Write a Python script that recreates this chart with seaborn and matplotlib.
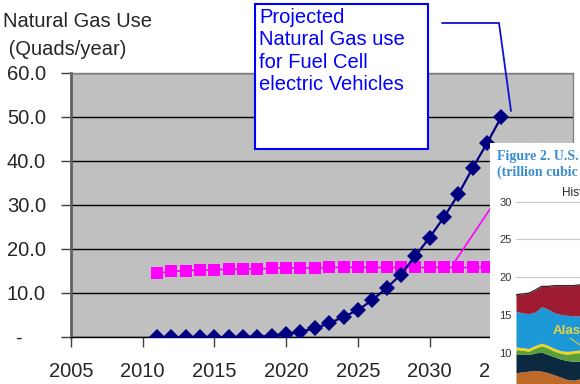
import matplotlib
matplotlib.use("Agg")
import matplotlib.pyplot as plt
from matplotlib.patches import Rectangle
from matplotlib.lines import Line2D
import seaborn as sns

# ---- main chart data ----
fcev_years = list(range(2011, 2036))
fcev_use = [0.0, 0.0, 0.0, 0.0, 0.0, 0.0, 0.05, 0.1, 0.3, 0.7, 1.2, 2.0, 3.1, 4.6,
            6.1, 8.4, 11.1, 14.2, 18.4, 22.6, 27.2, 32.4, 38.4, 44.0, 50.0]
ng_years = list(range(2011, 2036))
ng_use = [14.5, 14.9, 15.1, 15.2, 15.3, 15.4, 15.4, 15.5, 15.6, 15.7, 15.7, 15.7, 15.8,
          15.8, 15.8, 15.8, 15.8, 15.8, 15.8, 15.8, 15.8, 15.8, 15.8, 15.8, 15.8]
x_ticks = [2005, 2010, 2015, 2020, 2025, 2030, 2035, 2040]
y_ticks = [0, 10, 20, 30, 40, 50, 60]
y_labels = ["", "10.0", "20.0", "30.0", "40.0", "50.0", "60.0"]
title_lines = ["Natural Gas Use", " (Quads/year)"]
note_text = "Projected\nNatural Gas use\nfor Fuel Cell\nelectric Vehicles"

# ---- overlaid figure data (partial, EIA chart) ----
inset_years = list(range(1990, 2002))
top_total = [17.7, 17.8, 17.9, 18.3, 18.8, 18.8, 18.9, 18.9, 18.9, 18.9, 19.0, 19.0]
top_blue = [15.5, 15.3, 15.2, 15.4, 16.1, 15.8, 15.3, 15.1, 15.0, 14.9, 14.9, 14.9]
top_yellow = [10.8, 10.7, 10.6, 11.0, 11.3, 11.0, 10.6, 10.3, 10.2, 10.3, 10.4, 10.5]
top_green = [10.45, 10.35, 10.25, 10.65, 10.95, 10.65, 10.25, 9.95, 9.85, 9.95, 10.05, 10.15]
top_navy = [9.9, 9.8, 9.8, 10.0, 10.1, 9.8, 9.5, 9.2, 9.0, 8.9, 8.9, 8.9]
top_brown = [7.4, 7.5, 7.6, 7.7, 7.6, 7.4, 7.1, 6.8, 6.5, 6.4, 6.6, 6.7]
inset_yticks = [10, 15, 20, 25, 30]

sns.set_style("white")
plt.rcParams["font.family"] = ["Liberation Sans", "DejaVu Sans"]

W, H = 580, 384
def fx(px):
    return px / W
def fy(py):
    return 1 - py / H

fig = plt.figure(figsize=(5.8, 3.84), dpi=100)
ax = fig.add_axes([fx(71), fy(337), 502 / W, 264 / H])
ax.set_facecolor("#C0C0C0")

sns.lineplot(x=ng_years, y=ng_use, ax=ax, color="#FF00FF", marker="s",
             markersize=9, markeredgewidth=0, lw=1.2, zorder=3)
sns.lineplot(x=fcev_years, y=fcev_use, ax=ax, color="#000080", marker="D",
             markersize=8.5, markeredgewidth=0, lw=1.6, zorder=4)

# magenta leader line from an off-screen label
ax.plot([2031.8, 2036.0], [17.3, 37.8], color="#FF00FF", lw=1.2, zorder=3)

ax.set_xlim(2005, 2040)
ax.set_ylim(0, 60)
ax.set_xticks(x_ticks)
ax.set_xticklabels([str(t) for t in x_ticks])
ax.set_yticks(y_ticks)
ax.set_yticklabels(y_labels)
ax.yaxis.grid(True, color="black", lw=1)
ax.xaxis.grid(False)
ax.set_axisbelow(True)
ax.tick_params(axis="y", length=7, width=1, color="#404040", labelsize=14.5, pad=11,
               direction="out", left=True)
ax.tick_params(axis="x", length=7, width=1, color="#404040", labelsize=14.5, pad=11,
               direction="out", bottom=True)
for s in ["top", "right"]:
    ax.spines[s].set_color("#808080")
    ax.spines[s].set_linewidth(1)
ax.spines["left"].set_color("#606060")
ax.spines["left"].set_linewidth(2)
ax.spines["bottom"].set_color("black")
ax.spines["bottom"].set_linewidth(1)
ax.set_xlabel("")
ax.set_ylabel("")
leg = ax.get_legend()
if leg:
    leg.remove()

# "-" for zero
fig.text(fx(15), fy(338), "-", fontsize=14.5, ha="left", va="center")

# title
fig.text(fx(3), fy(27), title_lines[0], fontsize=14.5, ha="left", va="baseline")
fig.text(fx(3), fy(55), title_lines[1], fontsize=14.5, ha="left", va="baseline")

# annotation box
fig.add_artist(Rectangle((fx(255), fy(149)), 173 / W, 145 / H, transform=fig.transFigure,
                         facecolor="white", edgecolor="#0000FF", lw=1.5, zorder=5))
fig.text(fx(259), fy(8), note_text, fontsize=14.5, color="#0000FF", ha="left",
         va="top", linespacing=1.22, zorder=6)
fig.add_artist(Line2D([fx(442), fx(499), fx(511)], [fy(23), fy(23), fy(111)],
                      transform=fig.transFigure, color="#1010D0", lw=1.3, zorder=6))

# overlaid panel
panel = fig.add_axes([fx(490), 0, 90 / W, 241 / H], zorder=10)
panel.set_facecolor("white")
panel.set_xticks([])
panel.set_yticks([])
for s in panel.spines.values():
    s.set_visible(False)

iax = fig.add_axes([fx(516), 0, 184 / W, 194 / H], zorder=11)
iax.set_facecolor("none")
iax.set_xlim(1990, 1990 + 184 / 6.4)
iax.set_ylim(5.90, 31.54)
iax.set_yticks(inset_yticks)
iax.set_yticklabels([str(t) for t in inset_yticks])
iax.set_xticks([])
iax.tick_params(axis="y", length=0, labelsize=8, labelcolor="#333333", pad=3)
iax.yaxis.grid(True, color="#C8C8C8", lw=0.8)
iax.set_axisbelow(True)
for s in iax.spines.values():
    s.set_visible(False)

base = [0] * len(inset_years)
layers = [(base, top_brown, "#C06A2A"), (top_brown, top_navy, "#0B2A40"),
          (top_navy, top_green, "#5A9E3A"), (top_green, top_yellow, "#F2D21B"),
          (top_yellow, top_blue, "#1B98D5"), (top_blue, top_total, "#9E1B32")]
for lo, hi, c in layers:
    iax.fill_between(inset_years, lo, hi, color=c, lw=0)
iax.plot(inset_years, top_total, color="#3A2A2A", lw=1)

fig.text(fx(497), fy(160), "Figure 2. U.S. dry natural gas production", fontsize=10,
         color="#3A8DD0", fontweight="bold", family=["Liberation Serif", "DejaVu Serif"],
         ha="left", va="baseline", zorder=20)
fig.text(fx(497), fy(176), "(trillion cubic feet)", fontsize=10,
         color="#3A8DD0", fontweight="bold", family=["Liberation Serif", "DejaVu Serif"],
         ha="left", va="baseline", zorder=20)
fig.text(fx(562), fy(193), "History", fontsize=8.5, color="#222222", ha="left",
         va="center", zorder=20)
fig.text(fx(553), fy(331), "Alaska", fontsize=9.5, color="#F0D040", fontweight="bold",
         ha="left", va="center", zorder=20)
fig.add_artist(Line2D([fx(570), fx(580)], [fy(338), fy(345)], transform=fig.transFigure,
                      color="#E0C040", lw=0.8, zorder=20))

fig.savefig("out.png", dpi=100)
